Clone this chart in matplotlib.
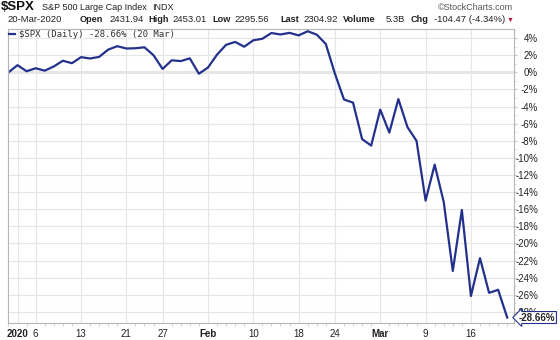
import matplotlib
matplotlib.use("Agg")
import matplotlib.pyplot as plt
import matplotlib.transforms as mtransforms

plt.rcParams['font.family'] = ['Liberation Sans', 'DejaVu Sans']

# ---- data: $SPX % change since 31-Dec-2019 (trading days) ----
dates = ['Dec31', 'Jan2', 'Jan3', 'Jan6', 'Jan7', 'Jan8', 'Jan9', 'Jan10',
         'Jan13', 'Jan14', 'Jan15', 'Jan16', 'Jan17',
         'Jan21', 'Jan22', 'Jan23', 'Jan24',
         'Jan27', 'Jan28', 'Jan29', 'Jan30', 'Jan31',
         'Feb3', 'Feb4', 'Feb5', 'Feb6', 'Feb7',
         'Feb10', 'Feb11', 'Feb12', 'Feb13', 'Feb14',
         'Feb18', 'Feb19', 'Feb20', 'Feb21',
         'Feb24', 'Feb25', 'Feb26', 'Feb27', 'Feb28',
         'Mar2', 'Mar3', 'Mar4', 'Mar5', 'Mar6',
         'Mar9', 'Mar10', 'Mar11', 'Mar12', 'Mar13',
         'Mar16', 'Mar17', 'Mar18', 'Mar19', 'Mar20']
pct = [0.0, 0.84, 0.13, 0.48, 0.20, 0.69, 1.36, 1.07,
       1.78, 1.62, 1.81, 2.66, 3.06,
       2.79, 2.82, 2.93, 2.00,
       0.40, 1.41, 1.32, 1.64, -0.16,
       0.56, 2.07, 3.22, 3.56, 3.00,
       3.75, 3.93, 4.60, 4.43, 4.62,
       4.32, 4.81, 4.41, 3.31,
       -0.15, -3.17, -3.54, -7.80, -8.56,
       -4.35, -7.04, -3.12, -6.40, -8.00,
       -14.99, -10.79, -15.15, -23.22, -16.09,
       -26.14, -21.72, -25.77, -25.42, -28.66]

tick_dates = ['Jan2', 'Jan6', 'Jan13', 'Jan21', 'Jan27', 'Feb3', 'Feb10',
              'Feb18', 'Feb24', 'Mar2', 'Mar9', 'Mar16']
tick_labels = ['2020', '6', '13', '21', '27', 'Feb', '10', '18', '24', 'Mar', '9', '16']
bold_labels = ['2020', 'Feb', 'Mar']
y_ticks = list(range(4, -30, -2))

line_color = '#23318c'
W, H = 560, 340

def fpos(x, y):
    return x / W, 1 - y / H

fig = plt.figure(figsize=(W / 100, H / 100), dpi=100)
ax = fig.add_axes([8 / W, 17 / H, (514 - 8) / W, (323 - 29) / H])

x = list(range(len(dates)))
ax.plot(x, pct, color=line_color, lw=1.6, solid_joinstyle='round',
        label='\\$SPX (Daily) -28.66% (20 Mar)')

ax.set_xlim(-0.05, 55.75)
ax.set_ylim(-29.3, 5.07)

# grid + ticks
ax.set_xticks([dates.index(d) for d in tick_dates])
ax.set_xticklabels(tick_labels)
for lbl in ax.get_xticklabels():
    if lbl.get_text() in bold_labels:
        lbl.set_fontweight('bold')
ax.set_xticks(x, minor=True)
ax.yaxis.tick_right()
ax.set_yticks(y_ticks)
ax.set_yticklabels([f'{v}%' for v in y_ticks])
ax.set_yticks(range(-29, 6), minor=True)
ax.grid(True, which='major', color='#e6e6e6', lw=0.8)
ax.axhline(0, color='#808080', lw=1.0, zorder=1.5)

ax.tick_params(axis='x', which='major', length=0, pad=4, labelsize=7, colors='#222222')
ax.tick_params(axis='x', which='minor', length=2, color='#c8c8c8', direction='out')
ax.tick_params(axis='y', which='major', length=2, color='#c8c8c8', pad=15.3,
               labelsize=7, labelcolor='#222222')
ax.tick_params(axis='y', which='minor', length=1.5, color='#d0d0d0')
for lbl in ax.get_yticklabels():
    lbl.set_horizontalalignment('right')
for s in ax.spines.values():
    s.set_color('#b5b5b5')
    s.set_linewidth(0.8)

leg = ax.legend(loc='upper left', frameon=False, handlelength=0.7, handletextpad=0.4,
                borderaxespad=0.0, borderpad=0.1,
                prop={'family': 'DejaVu Sans Mono', 'size': 6.5})
for t in leg.get_texts():
    t.set_color('#333333')

# last value tag
trans = mtransforms.blended_transform_factory(fig.transFigure, ax.transData)
ax.text(519 / W, pct[-1], '-28.66%', transform=trans, ha='left', va='center',
        fontsize=7, fontweight='bold', color='#222222', clip_on=False, zorder=5,
        bbox=dict(boxstyle='larrow,pad=0.1', fc='white', ec=line_color, lw=0.8))

# header
fig.text(*fpos(1, 7.5), '\\$SPX', fontsize=9.5, fontweight='bold', va='center', color='#111111')
fig.text(*fpos(42, 7.5), 'S&P 500 Large Cap Index', fontsize=6.5, va='center', color='#222222')
fig.text(*fpos(152, 7.5), 'INDX', fontsize=6.5, va='center', color='#222222')
fig.text(*fpos(513, 7.5), '©StockCharts.com', fontsize=6.5, va='center', ha='right', color='#555555')

row2 = [(7, '20-Mar-2020', False), (80, 'Open', True), (109, '2431.94', False),
        (148, 'High', True), (172, '2453.01', False), (212, 'Low', True),
        (234, '2295.56', False), (280, 'Last', True), (303, '2304.92', False),
        (343, 'Volume', True), (386, '5.3B', False), (411, 'Chg', True),
        (434, '-104.47 (-4.34%)', False)]
for px, txt, bold in row2:
    fig.text(*fpos(px, 20), txt, fontsize=6.6 if bold else 6.8,
             fontweight='bold' if bold else 'normal', va='center', color='#222222')
fig.text(*fpos(507, 20.5), '▼', fontsize=5, va='center', color='#c0143c')

fig.savefig('out.png', dpi=100)
